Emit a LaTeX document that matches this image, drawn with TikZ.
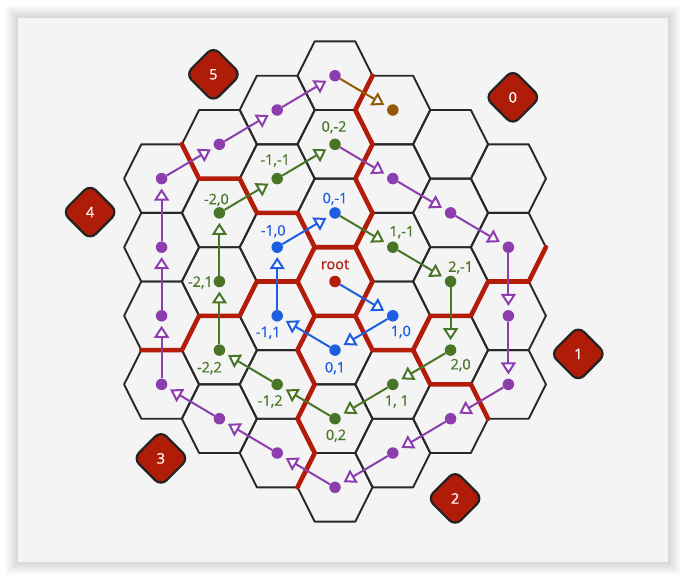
\documentclass[tikz,border=0pt]{standalone}
\usepackage{fontspec}
\setmainfont{Open Sans}
\newfontfamily\lblfont[BoldFont={Open Sans}, BoldFeatures={FakeBold=0.6}]{Open Sans}
\usetikzlibrary{arrows.meta,calc,shapes.geometric}
\definecolor{cardc}{RGB}{244,244,244}
\definecolor{hexc}{RGB}{40,40,40}
\definecolor{redc}{RGB}{178,28,8}
\definecolor{bluec}{RGB}{30,95,225}
\definecolor{greenc}{RGB}{72,118,38}
\definecolor{purplec}{RGB}{140,62,175}
\definecolor{brownc}{RGB}{150,88,5}
\definecolor{badgefill}{RGB}{175,28,8}
\definecolor{badgeline}{RGB}{35,35,35}
\def\R{37.5}
\def\A{20.3}
\def\H{34.3}
\def\S{57.8}
\def\V{68.6}
\tikzset{
  hexline/.style={draw=hexc, line width=1.9pt, line join=round},
  redb/.style={draw=redc, line width=4.6pt, line join=round, line cap=round},
  dotn/.style={circle, inner sep=0pt, minimum size=11.5pt, fill=#1},
  arr/.style={draw=#1, line width=2pt, -{Triangle[fill=white, length=12pt, width=15pt]}, shorten >=4pt},
  lbl/.style={text=#1, font=\lblfont\bfseries\fontsize{14.5}{17}\selectfont, inner sep=0pt},
  badge/.style={diamond, draw=badgeline, fill=badgefill, line width=2.2pt, minimum width=56pt, minimum height=56pt, rounded corners=8pt, inner sep=0pt, text=white, font=\lblfont\bfseries\fontsize{14.5}{17}\selectfont}
}
\begin{document}
\begin{tikzpicture}[x=1pt,y=-1pt]
\useasboundingbox (0,0) rectangle (687,581);
% card with shadow
\foreach \i in {1,...,13}{
  \fill[black, opacity=0.013] (18-\i,18-\i) rectangle (668+\i,562+\i);
}
\fill[cardc] (18,18) rectangle (668,562);
% hex grid
\foreach \q in {-3,...,3}{
  \foreach \r in {-3,...,3}{
    \pgfmathtruncatemacro\s{\q+\r}
    \ifnum\s<-3\relax\else\ifnum\s>3\relax\else
      \pgfmathsetmacro\X{335+\S*\q}
      \pgfmathsetmacro\Y{281.5+\V*(\r+\q/2)}
      \pgfmathtruncatemacro\qi{\q+3}
      \pgfmathtruncatemacro\ri{\r+3}
      \coordinate (h\qi\ri) at (\X,\Y);
      \coordinate (h\qi\ri L) at (\X-\R,\Y);
      \coordinate (h\qi\ri TL) at (\X-\A,\Y-\H);
      \coordinate (h\qi\ri TR) at (\X+\A,\Y-\H);
      \coordinate (h\qi\ri R) at (\X+\R,\Y);
      \coordinate (h\qi\ri BR) at (\X+\A,\Y+\H);
      \coordinate (h\qi\ri BL) at (\X-\A,\Y+\H);
      \draw[hexline] (h\qi\ri L) -- (h\qi\ri TL) -- (h\qi\ri TR) -- (h\qi\ri R) -- (h\qi\ri BR) -- (h\qi\ri BL) -- cycle;
    \fi\fi
  }
}
% red sector boundaries
\draw[redb] (h33L) -- (h33TL) -- (h33TR) -- (h33R) -- (h33BR) -- (h33BL) -- cycle;
\draw[redb] (h33TR) -- (h32R) -- (h32TR) -- (h31R) -- (h31TR) -- (h30R);
\draw[redb] (h23R) -- (h23TR) -- (h23TL) -- (h22L) -- (h12BL) -- (h12L);
\draw[redb] (h33L) -- (h23BL) -- (h24L) -- (h14BL) -- (h15L) -- (h05BL);
\draw[redb] (h33BL) -- (h34L) -- (h34BL) -- (h35L) -- (h35BL) -- (h36L);
\draw[redb] (h33BR) -- (h43BL) -- (h43BR) -- (h43R) -- (h52BR) -- (h52R) -- (h61BR) -- (h61R);
\draw[redb] (h43BR) -- (h53BL) -- (h53BR) -- (h54R);
% dots
\node[dotn=redc] (d33) at (h33) {};
\foreach \n in {43,34,24,23,32}{ \node[dotn=bluec] (d\n) at (h\n) {}; }
\foreach \n in {42,52,53,44,35,25,15,14,13,22,31}{ \node[dotn=greenc] (d\n) at (h\n) {}; }
\foreach \n in {41,51,61,62,63,54,45,36,26,16,06,05,04,03,12,21,30}{ \node[dotn=purplec] (d\n) at (h\n) {}; }
\node[dotn=brownc] (d40) at (h40) {};
% spiral arrows
\foreach \a/\b/\c in {33/43/bluec,43/34/bluec,34/24/bluec,24/23/bluec,23/32/bluec,
  32/42/greenc,42/52/greenc,52/53/greenc,53/44/greenc,44/35/greenc,35/25/greenc,25/15/greenc,15/14/greenc,14/13/greenc,13/22/greenc,22/31/greenc,
  31/41/purplec,41/51/purplec,51/61/purplec,61/62/purplec,62/63/purplec,63/54/purplec,54/45/purplec,45/36/purplec,36/26/purplec,26/16/purplec,16/06/purplec,06/05/purplec,05/04/purplec,04/03/purplec,03/12/purplec,12/21/purplec,21/30/purplec,
  30/40/brownc}{
  \draw[arr=\c] (d\a) -- (d\b);
}
% labels
\foreach \n/\t/\dx/\dy/\c in {33/{root}/0/-17/redc,
  32/{0,-1}/0/-14/bluec, 23/{-1,0}/-4/-16/bluec, 43/{1,0}/8/16/bluec, 34/{0,1}/0/18/bluec, 24/{-1,1}/-9/17/bluec,
  42/{1,-1}/9/-15/greenc, 52/{2,-1}/10/-14/greenc, 53/{2,0}/10/15/greenc, 44/{1, 1}/4/17/greenc, 35/{0,2}/1/17/greenc,
  25/{-1,2}/-7/17/greenc, 15/{-2,2}/-10/18/greenc, 14/{-2,1}/-19/1/greenc, 13/{-2,0}/-3/-13/greenc, 22/{-1,-1}/-2/-18/greenc, 31/{0,-2}/-1/-17/greenc}{
  \node[lbl=\c] (l\n) at ($(d\n)+(\dx,\dy)$) {\t};
}
% sector badges
\node[badge] (b0) at (512.8,97.3) {0};
\node[badge] (b1) at (578.3,353.9) {1};
\node[badge] (b2) at (455.1,498.4) {2};
\node[badge] (b3) at (160.9,458.4) {3};
\node[badge] (b4) at (90.1,212.1) {4};
\node[badge] (b5) at (213.4,74.3) {5};
\end{tikzpicture}
\end{document}
